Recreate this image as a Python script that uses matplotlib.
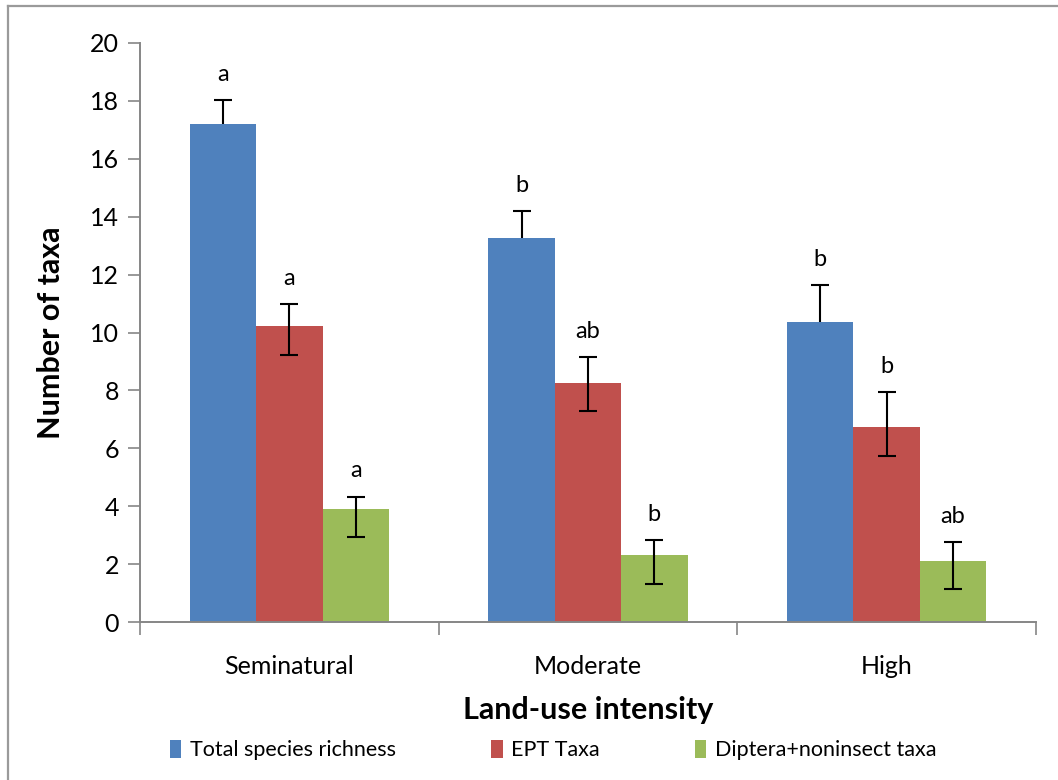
import matplotlib
matplotlib.use("Agg")
import matplotlib.pyplot as plt
import numpy as np
from matplotlib.lines import Line2D
from matplotlib.patches import Patch

plt.rcParams['font.family'] = ['Lato', 'DejaVu Sans']

categories = ["Seminatural", "Moderate", "High"]
series_names = ["Total species richness", "EPT Taxa", "Diptera+noninsect taxa"]

total_richness = [17.2, 13.25, 10.35]
ept_taxa = [10.22, 8.24, 6.74]
diptera_noninsect = [3.9, 2.31, 2.12]

# lower / upper error amounts
total_err_low = [0.0, 0.0, 0.0]
total_err_up = [0.82, 0.95, 1.29]
ept_err_low = [1.01, 0.94, 1.01]
ept_err_up = [0.76, 0.92, 1.21]
dipt_err_low = [0.95, 1.0, 0.99]
dipt_err_up = [0.43, 0.51, 0.63]

total_letters = ["a", "b", "b"]
ept_letters = ["a", "ab", "b"]
dipt_letters = ["a", "b", "ab"]

colors = ["#4F81BD", "#C0504D", "#9BBB59"]
axis_grey = "#868686"

W, H = 1058, 780
fig = plt.figure(figsize=(W / 100, H / 100), dpi=100)
ax = fig.add_axes([140 / W, 1 - 622 / H, (1036 - 140) / W, (622 - 43) / H])

x = np.arange(len(categories))
bw = 2 / 9
offsets = [-bw, 0, bw]
values = [total_richness, ept_taxa, diptera_noninsect]
errs = [(total_err_low, total_err_up), (ept_err_low, ept_err_up), (dipt_err_low, dipt_err_up)]
letters = [total_letters, ept_letters, dipt_letters]

for vals, (lo, up), lets, off, c in zip(values, errs, letters, offsets, colors):
    xs = x + off
    v = np.asarray(vals)
    lo = np.asarray(lo)
    up = np.asarray(up)
    ax.bar(xs, v, width=bw, color=c, zorder=2)
    ax.errorbar(xs, v, yerr=[lo, up], fmt="none", ecolor="black",
                elinewidth=1.5, capsize=0, zorder=3)
    # caps only where the whisker has length
    ax.plot(xs, v + up, ls="none", marker="_", markersize=13, mew=1.5,
            color="black", zorder=3)
    has_low = lo > 0
    ax.plot(xs[has_low], (v - lo)[has_low], ls="none", marker="_", markersize=13,
            mew=1.5, color="black", zorder=3)
    for xi, vi, u, t in zip(xs, v, up, lets):
        ax.annotate(t, (xi, vi + u), xytext=(0, 11), textcoords="offset points",
                    ha="center", va="bottom", fontsize=17, color="black")

ax.set_xlim(-0.5, 2.5)
ax.set_ylim(0, 20)
ax.set_yticks(np.arange(0, 21, 2))
ax.tick_params(axis="y", direction="out", length=9, width=1.2, color=axis_grey,
               labelsize=18, pad=6)
ax.set_xticks(x)
ax.set_xticklabels(categories)
ax.set_xticks([-0.5, 0.5, 1.5, 2.5], minor=True)
ax.tick_params(axis="x", which="major", length=0, labelsize=18, pad=24)
ax.tick_params(axis="x", which="minor", direction="out", length=9, width=1.2,
               color=axis_grey)

for s in ["top", "right"]:
    ax.spines[s].set_visible(False)
for s in ["left", "bottom"]:
    ax.spines[s].set_color(axis_grey)
    ax.spines[s].set_linewidth(1.4)

ax.set_ylabel("Number of taxa", fontsize=22, fontweight="bold", labelpad=18)
fig.text(588 / W, 1 - 710 / H, "Land-use intensity", ha="center", va="center",
         fontsize=22, fontweight="bold")

handles = [Patch(facecolor=c, edgecolor="none") for c in colors]
fig.legend(handles, series_names, loc="center", bbox_to_anchor=(553 / W, 1 - 750 / H),
           ncol=3, frameon=False, fontsize=15.5, handlelength=0.55, handleheight=0.9,
           handletextpad=0.4, columnspacing=4.4)

# chart-area border
fig.add_artist(Line2D([8 / W, 8 / W], [0, 1 - 6 / H], transform=fig.transFigure,
                      color="#9a9a9a", lw=1.6))
fig.add_artist(Line2D([8 / W, 1], [1 - 6 / H, 1 - 6 / H], transform=fig.transFigure,
                      color="#9a9a9a", lw=1.6))

fig.savefig("out.png", dpi=100)
